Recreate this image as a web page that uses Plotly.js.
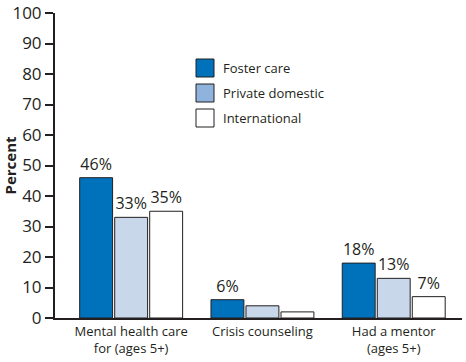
<!DOCTYPE html>
<html><head><meta charset="utf-8">
<script src="https://cdn.plot.ly/plotly-3.0.1.min.js"></script>
<style>html,body{margin:0;padding:0;background:#fff}#chart{width:466px;height:362px}</style>
</head><body><div id="chart"></div>
<script>
const categories = ["Mental health care<br>for (ages 5+)", "Crisis counseling", "Had a mentor<br>(ages 5+)"];
const seriesNames = ["Foster care", "Private domestic", "International"];
const fosterCare = [46, 6, 18];
const privateDomestic = [33, 4, 13];
const international = [35, 2, 7];
const fosterLabels = ["46%", "6%", "18%"];
const privateLabels = ["33%", "", "13%"];
const internationalLabels = ["35%", "", "7%"];
const yTicks = [0, 10, 20, 30, 40, 50, 60, 70, 80, 90, 100];

const barColors = ["#0072bc", "#c8d7ea", "#ffffff"];
const legendColors = ["#0072bc", "#8fb3dc", "#ffffff"];
const ink = "#231f20";
const font = "Open Sans, Noto Sans, sans-serif";

const values = [fosterCare, privateDomestic, international];
const labels = [fosterLabels, privateLabels, internationalLabels];
const x = [0, 1, 2];

const traces = values.map((v, i) => ({
  type: "bar", x: x, y: v, name: seriesNames[i],
  text: labels[i], textposition: "outside", cliponaxis: false,
  textfont: {family: font, size: 16, color: ink},
  marker: {color: barColors[i], line: {color: ink, width: 1}},
  showlegend: false, hoverinfo: "skip"
}));

const L = 55, R = 4, T = 13, B = 44, W = 466, H = 362;
const pw = W - L - R, ph = H - T - B;
const px = v => (v - L) / pw;
const py = v => (H - B - v) / ph;

const shapes = [], annotations = [];
const legendTop = [59, 84, 109];
seriesNames.forEach((n, i) => {
  shapes.push({type: "rect", xref: "paper", yref: "paper",
    x0: px(196), x1: px(214), y0: py(legendTop[i] + 18), y1: py(legendTop[i]),
    fillcolor: legendColors[i], line: {color: ink, width: 1}});
  annotations.push({xref: "paper", yref: "paper", x: px(221), y: py(legendTop[i] + 9),
    xanchor: "left", yanchor: "middle", showarrow: false, text: n,
    font: {family: font, size: 13, color: ink}});
});

const layout = {
  width: W, height: H,
  margin: {l: L, r: R, t: T, b: B, pad: 0},
  paper_bgcolor: "#fff", plot_bgcolor: "#fff",
  barmode: "group", bargap: 0.2, bargroupgap: 0.06,
  showlegend: false,
  xaxis: {
    range: [-0.58, 2.52], tickvals: x, ticktext: categories,
    showline: true, linecolor: ink, linewidth: 2, ticks: "",
    showgrid: false, zeroline: false, fixedrange: true,
    tickfont: {family: font, size: 13, color: ink}
  },
  yaxis: {
    range: [0, 100], tickvals: yTicks, showline: true, linecolor: ink, linewidth: 2,
    ticks: "outside", ticklen: 8, tickwidth: 2, tickcolor: ink,
    showgrid: false, zeroline: false, fixedrange: true,
    tickfont: {family: font, size: 17, color: ink},
    title: {text: "<b>Percent</b>", font: {family: font, size: 15, color: ink}, standoff: 4}
  },
  shapes: shapes, annotations: annotations
};

Plotly.newPlot("chart", traces, layout, {displayModeBar: false, staticPlot: true});
</script></body></html>
